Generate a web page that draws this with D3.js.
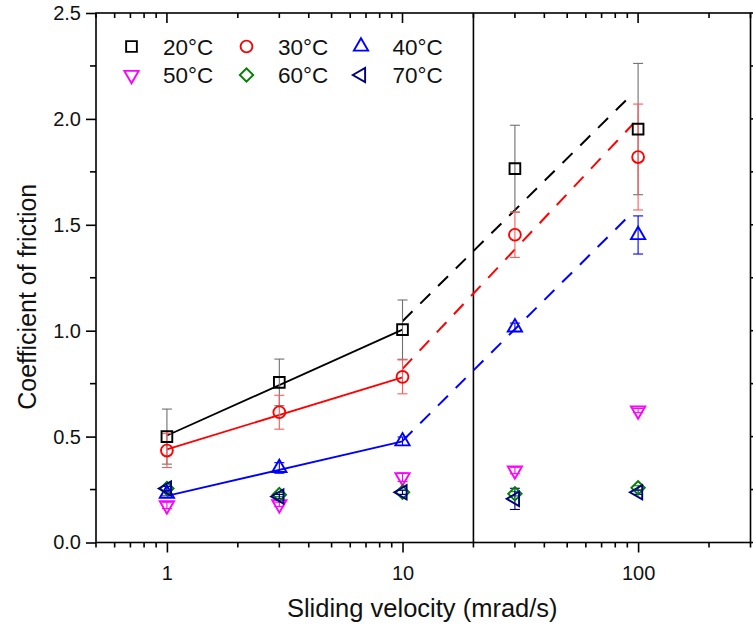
<!DOCTYPE html>
<html>
<head>
<meta charset="utf-8">
<script src="https://cdn.jsdelivr.net/npm/d3@7"></script>
<style>
  body { margin: 0; background: #fff; }
  text { font-family: "Liberation Sans", Arial, sans-serif; }
</style>
</head>
<body>
<script>
// data
const vel = [1, 3, 10, 30, 100];
const temps = ["20°C", "30°C", "40°C", "50°C", "60°C", "70°C"];

const cof20 = [0.500, 0.756, 1.005, 1.765, 1.952];
const err20 = [0.13, 0.11, 0.14, 0.205, 0.31];
const cof30 = [0.434, 0.615, 0.782, 1.453, 1.820];
const err30 = [0.08, 0.08, 0.08, 0.107, 0.25];
const cof40 = [0.230, 0.352, 0.478, 1.016, 1.452];
const err40 = [0.01, 0.025, 0.02, 0.02, 0.09];
const cof50 = [0.175, 0.180, 0.308, 0.340, 0.623];
const err50 = [0.015, 0.01, 0.02, 0.015, 0.01];
const cof60 = [0.255, 0.226, 0.237, 0.230, 0.258];
const err60 = [0.01, 0.01, 0.01, 0.01, 0.01];
const cof70 = [0.255, 0.217, 0.237, 0.206, 0.237];
const err70 = [0.01, 0.01, 0.01, 0.05, 0.01];

// fitted lines: solid at low velocity, dashed extrapolation at high velocity
const fitX = [1, 10];
const fit20 = [0.505, 1.005];
const fit30 = [0.440, 0.780];
const fit40 = [0.220, 0.478];
const dashX = [10, 95];
const dash20 = [1.045, 2.120];
const dash30 = [0.820, 1.975];
const dash40 = [0.480, 1.560];

const yTicks = [0, 0.5, 1, 1.5, 2, 2.5];
const xTickLabels = [1, 10, 100];
const splitAt = 20;

const W = 753, H = 627;
const mLeft = 96, mRight = 750.5, mTop = 13, mBottom = 542.5;

const svg = d3.select("body").append("svg")
    .attr("width", W)
    .attr("height", H);

const x = d3.scaleLog().domain([0.5, 300]).range([mLeft, mRight]);
const y = d3.scaleLinear().domain([0, 2.5]).range([mBottom, mTop]);

// minor ticks for log axis
let xMinor = [];
[0.1, 1, 10, 100].forEach(dec => {
    for (let k = 2; k <= 9; k++) {
        const v = dec * k;
        if (v >= 0.5 && v <= 300) xMinor.push(v);
    }
});
const yMinor = d3.range(0.25, 2.5, 0.5);

// bottom axis, ticks out
const xAxisB = svg.append("g").attr("transform", "translate(0," + mBottom + ")");
xAxisB.call(d3.axisBottom(x).tickValues(xTickLabels).tickFormat(d3.format("d"))
        .tickSize(10).tickSizeOuter(0))
    .call(g => g.select(".domain").remove());
xAxisB.selectAll("line.min").data(xMinor).enter().append("line")
    .attr("x1", d => x(d)).attr("x2", d => x(d))
    .attr("y1", 0).attr("y2", 5);
xAxisB.selectAll("text").attr("font-size", 20).attr("dy", "1.2em").attr("fill", "#111");

// top axis, ticks pointing into the plot
const xAxisT = svg.append("g").attr("transform", "translate(0," + mTop + ")");
xAxisT.selectAll("line.maj").data(xTickLabels).enter().append("line")
    .attr("x1", d => x(d)).attr("x2", d => x(d)).attr("y1", 0).attr("y2", 10);
xAxisT.selectAll("line.min").data(xMinor).enter().append("line")
    .attr("x1", d => x(d)).attr("x2", d => x(d)).attr("y1", 0).attr("y2", 5);

// left axis
const yAxisL = svg.append("g").attr("transform", "translate(" + mLeft + ",0)");
yAxisL.call(d3.axisLeft(y).tickValues(yTicks).tickFormat(d3.format(".1f"))
        .tickSize(10).tickSizeOuter(0))
    .call(g => g.select(".domain").remove());
yAxisL.selectAll("text").attr("font-size", 20).attr("dx", "-0.1em").attr("fill", "#111");
yAxisL.selectAll("line.min").data(yMinor).enter().append("line")
    .attr("x1", 0).attr("x2", -6).attr("y1", d => y(d)).attr("y2", d => y(d));

// right axis, ticks out
const yAxisR = svg.append("g").attr("transform", "translate(" + mRight + ",0)");
yAxisR.selectAll("line.maj").data(yTicks).enter().append("line")
    .attr("x1", 0).attr("x2", 10).attr("y1", d => y(d)).attr("y2", d => y(d));
yAxisR.selectAll("line.min").data(yMinor).enter().append("line")
    .attr("x1", 0).attr("x2", 6).attr("y1", d => y(d)).attr("y2", d => y(d));

svg.selectAll("g line").attr("stroke", "#000").attr("stroke-width", 1.6);

// frame
svg.append("rect")
    .attr("x", mLeft).attr("y", mTop)
    .attr("width", mRight - mLeft).attr("height", mBottom - mTop)
    .attr("fill", "none").attr("stroke", "#000").attr("stroke-width", 1.6);

// split line
svg.append("line")
    .attr("x1", x(splitAt)).attr("x2", x(splitAt))
    .attr("y1", mTop).attr("y2", mBottom)
    .attr("stroke", "#000").attr("stroke-width", 1.6);

// titles
svg.append("text")
    .attr("x", (mLeft + mRight) / 2 - 1).attr("y", 617)
    .attr("text-anchor", "middle").attr("font-size", 25.5).attr("fill", "#111")
    .text("Sliding velocity (mrad/s)");
svg.append("text")
    .attr("transform", "translate(36," + ((mTop + mBottom) / 2 + 19) + ") rotate(-90)")
    .attr("text-anchor", "middle").attr("font-size", 25).attr("fill", "#111")
    .text("Coefficient of friction");

const line = d3.line().x(d => x(d[0])).y(d => y(d[1]));

const fits = [
    { c: "#000000", solid: fit20, dash: dash20 },
    { c: "#ff0000", solid: fit30, dash: dash30 },
    { c: "#0000ff", solid: fit40, dash: dash40 }
];
fits.forEach(f => {
    svg.append("path")
        .attr("d", line(d3.zip(fitX, f.solid)))
        .attr("fill", "none").attr("stroke", f.c).attr("stroke-width", 1.8);
    svg.append("path")
        .attr("d", line(d3.zip(dashX, f.dash)))
        .attr("fill", "none").attr("stroke", f.c).attr("stroke-width", 2)
        .attr("stroke-dasharray", "14,11");
});

const series = [
    { name: temps[0], v: cof20, e: err20, c: "#000000", ec: "#707070", sym: d3.symbolSquare, size: 115, rot: 0 },
    { name: temps[1], v: cof30, e: err30, c: "#ff0000", ec: "#ff5a5a", sym: d3.symbolCircle, size: 110, rot: 0 },
    { name: temps[2], v: cof40, e: err40, c: "#0000ff", ec: "#0000ff", sym: d3.symbolTriangle, size: 88, rot: 0 },
    { name: temps[3], v: cof50, e: err50, c: "#ff00ff", ec: "#ff00ff", sym: d3.symbolTriangle, size: 88, rot: 180 },
    { name: temps[4], v: cof60, e: err60, c: "#008000", ec: "#008000", sym: d3.symbolSquare, size: 90, rot: 45 },
    { name: temps[5], v: cof70, e: err70, c: "#000080", ec: "#000080", sym: d3.symbolTriangle, size: 88, rot: -90 }
];

// error bars
series.forEach(s => {
    const g = svg.append("g").attr("stroke", s.ec).attr("stroke-width", 1.1);
    vel.forEach((vx, i) => {
        const cx = x(vx), y1 = y(s.v[i] - s.e[i]), y2 = y(s.v[i] + s.e[i]);
        g.append("line").attr("x1", cx).attr("x2", cx).attr("y1", y1).attr("y2", y2);
        g.append("line").attr("x1", cx - 5).attr("x2", cx + 5).attr("y1", y1).attr("y2", y1);
        g.append("line").attr("x1", cx - 5).attr("x2", cx + 5).attr("y1", y2).attr("y2", y2);
    });
});

// markers
series.forEach(s => {
    const p = d3.symbol().type(s.sym).size(s.size)();
    svg.append("g").selectAll("path").data(vel).enter().append("path")
        .attr("d", p)
        .attr("transform", (d, i) => "translate(" + x(d) + "," + y(s.v[i]) + ") rotate(" + s.rot + ")")
        .attr("fill", "none").attr("stroke", s.c).attr("stroke-width", 1.9);
});

// legend
const legCols = [131.5, 246.5, 361];
const legRows = [46.5, 75];
series.forEach((s, i) => {
    const lx = legCols[i % 3], ly = legRows[Math.floor(i / 3)];
    svg.append("path")
        .attr("d", d3.symbol().type(s.sym).size(s.size)())
        .attr("transform", "translate(" + lx + "," + ly + ") rotate(" + s.rot + ")")
        .attr("fill", "none").attr("stroke", s.c).attr("stroke-width", 1.9);
    svg.append("text")
        .attr("x", lx + 31.5).attr("y", ly + 8)
        .attr("font-size", 22.5).attr("fill", "#111")
        .text(s.name);
});
</script>
</body>
</html>
